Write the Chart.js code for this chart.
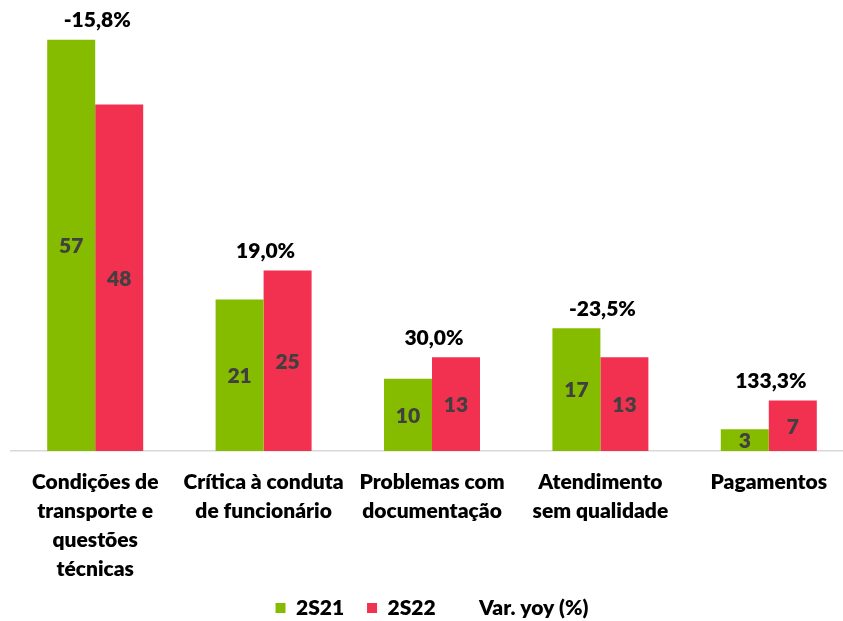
<!DOCTYPE html>
<html>
<head>
<meta charset="utf-8">
<script src="https://cdn.jsdelivr.net/npm/chart.js@4"></script>
<style>
  html, body { margin: 0; padding: 0; background: #fff; overflow: hidden; width: 843px; height: 621px; }
  #wrap { position: relative; width: 854px; height: 621px; }
</style>
</head>
<body>
<div id="wrap"><canvas id="chart"></canvas></div>
<script>
"use strict";

const CATEGORIES = [
  ["Condições de", "transporte e", "questões", "técnicas"],
  ["Crítica à conduta", "de funcionário"],
  ["Problemas com", "documentação"],
  ["Atendimento", "sem qualidade"],
  ["Pagamentos"],
];
const S2S21 = [57, 21, 10, 17, 3];
const S2S22 = [48, 25, 13, 13, 7];
const VAR_YOY = [-15.8, 19.0, 30.0, -23.5, 133.3];

const COLORS = { a: "#86bc00", b: "#f2304f", text: "#404040", axis: "#d9d9d9" };
const FONT = "Lato, 'Open Sans', sans-serif";
const SIZE = 21;
const WEIGHT = 800;

// var yoy labels sit on top of the taller bar of each pair
const yoyAnchor = S2S21.map((v, i) => Math.max(v, S2S22[i]));

const labelPlugin = {
  id: "labels",
  afterDatasetsDraw(chart) {
    const ctx = chart.ctx;
    ctx.save();
    ctx.textAlign = "center";
    ctx.textBaseline = "middle";
    ctx.font = `${WEIGHT} ${SIZE}px ${FONT}`;
    ctx.fillStyle = COLORS.text;
    [0, 1].forEach((di) => {
      chart.getDatasetMeta(di).data.forEach((bar, i) => {
        ctx.fillText(String(chart.data.datasets[di].data[i]), bar.x, (bar.y + bar.base) / 2 + 1);
      });
    });
    ctx.fillStyle = "#000";
    chart.getDatasetMeta(2).data.forEach((pt, i) => {
      const txt = VAR_YOY[i].toFixed(1).replace(".", ",") + "%";
      ctx.fillText(txt, pt.x + 2, pt.y - 19);
    });
    ctx.restore();
  },
};

new Chart(document.getElementById("chart"), {
  data: {
    labels: CATEGORIES,
    datasets: [
      { type: "bar", label: "2S21", data: S2S21, backgroundColor: COLORS.a, barPercentage: 1, categoryPercentage: 0.57 },
      { type: "bar", label: "2S22", data: S2S22, backgroundColor: COLORS.b, barPercentage: 1, categoryPercentage: 0.57 },
      { type: "line", label: "Var. yoy (%)", data: yoyAnchor, showLine: false, pointRadius: 0,
        borderColor: "rgba(0,0,0,0)", backgroundColor: "rgba(0,0,0,0)" },
    ],
  },
  options: {
    responsive: true,
    maintainAspectRatio: false,
    animation: false,
    layout: { padding: { left: 11, right: 1, top: 18, bottom: -7.5 } },
    scales: {
      x: {
        grid: { display: false, drawTicks: false },
        border: { display: true, color: COLORS.axis, width: 1.5 },
        ticks: { color: "#000", font: { family: FONT, size: SIZE, weight: WEIGHT, lineHeight: 1.38 }, padding: 17, maxRotation: 0, autoSkip: false },
        afterFit: (scale) => { scale.height = 128.5; },
      },
      y: { display: false, min: 0, max: 60 },
    },
    plugins: {
      legend: {
        position: "bottom",
        labels: {
          color: "#000", boxWidth: 10, boxHeight: 10, padding: 18,
          font: { family: FONT, size: SIZE, weight: WEIGHT },
          // pad the first two entries so the gaps stay wide while the legend row stays low
          generateLabels: (c) => Chart.defaults.plugins.legend.labels.generateLabels(c)
            .map((l, i) => (i < 2 ? { ...l, text: l.text + " " } : l)),
        },
      },
      tooltip: { enabled: false },
    },
  },
  plugins: [labelPlugin],
});
</script>
</body>
</html>
